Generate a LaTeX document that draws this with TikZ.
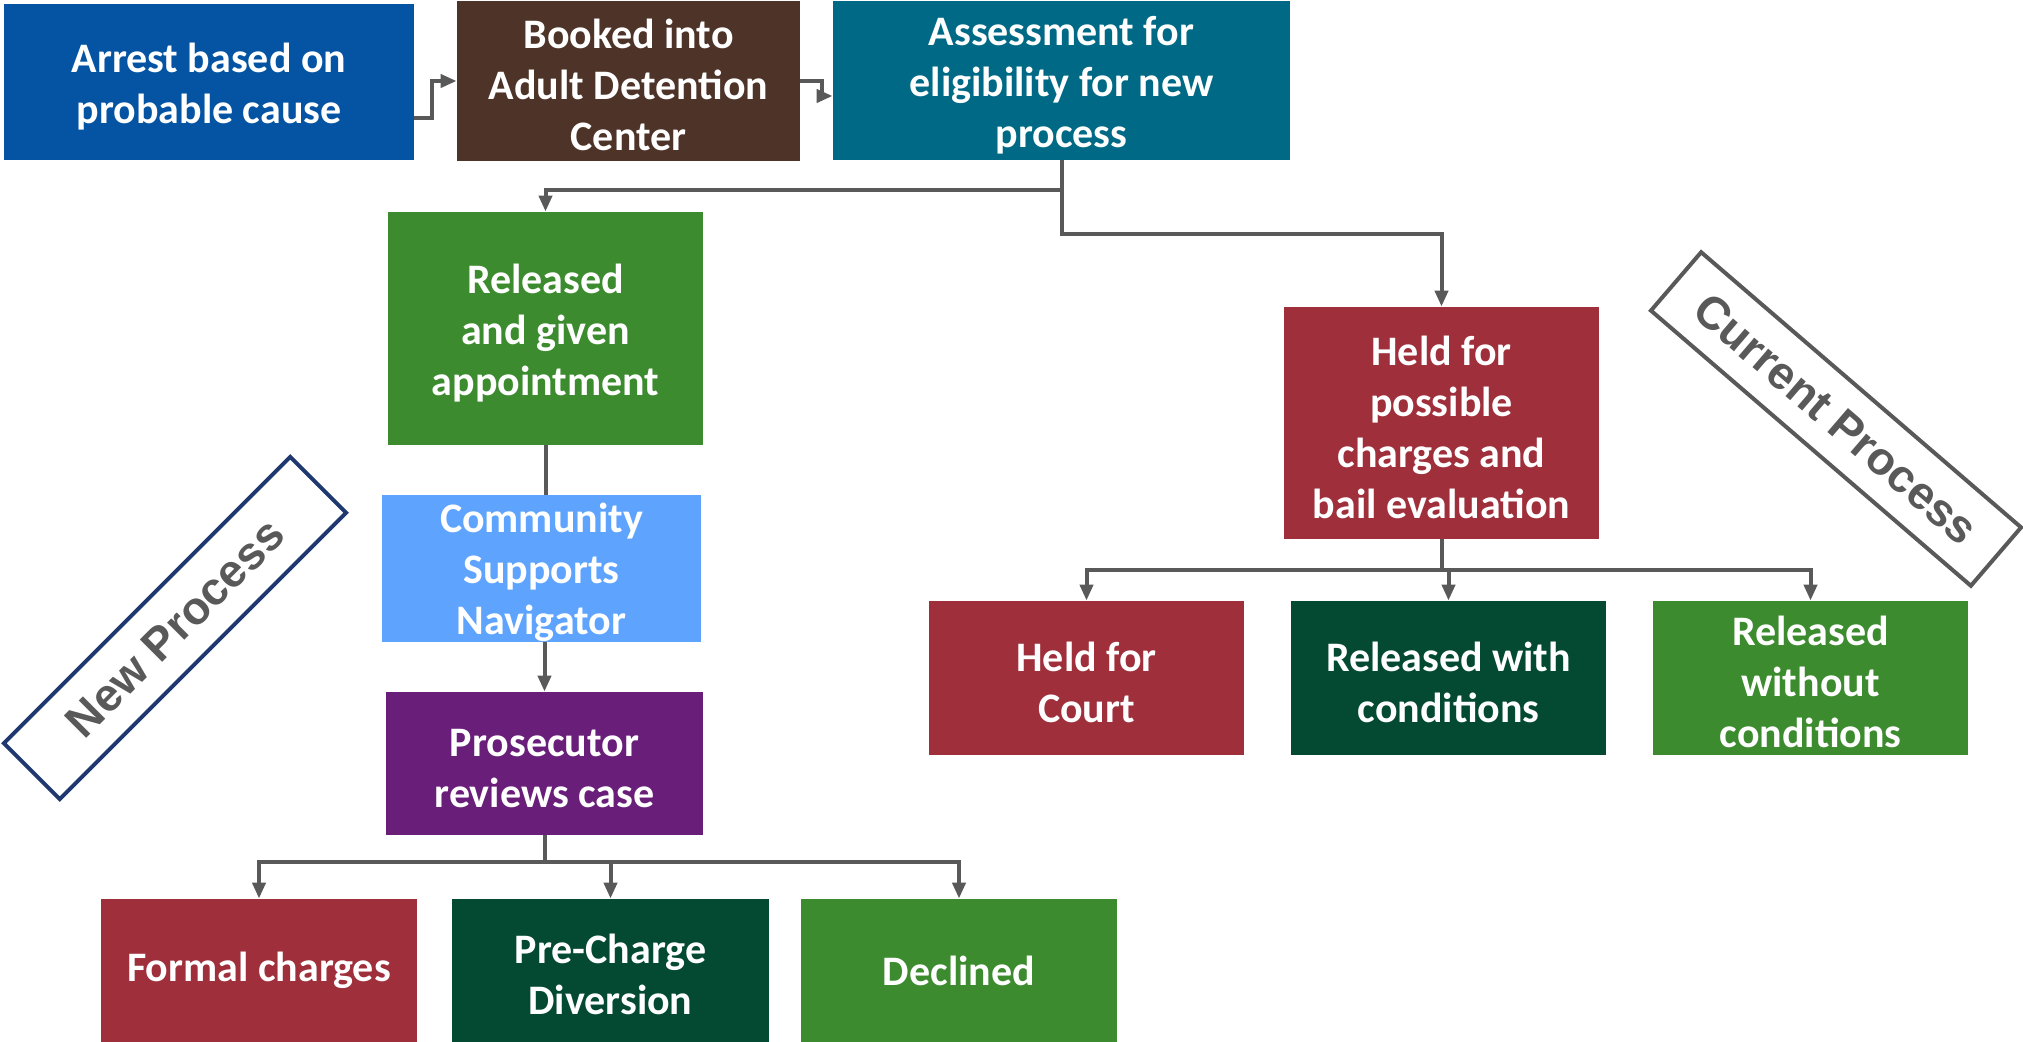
\documentclass[tikz,border=0pt]{standalone}
\usepackage{fontspec}
\setmainfont{Carlito}
\newfontfamily\arialfont{Liberation Sans}
\usetikzlibrary{arrows.meta,calc}
\definecolor{cBlue}{HTML}{0454A3}
\definecolor{cBrown}{HTML}{4D3328}
\definecolor{cTeal}{HTML}{006A86}
\definecolor{cGreen}{HTML}{3D8B2F}
\definecolor{cLight}{HTML}{5EA4FF}
\definecolor{cPurple}{HTML}{691F7A}
\definecolor{cRed}{HTML}{9E2F3B}
\definecolor{cDark}{HTML}{044A33}
\definecolor{cGray}{HTML}{595959}
\definecolor{cNavy}{HTML}{1F3870}
\newcommand\topstrut{\rule{0pt}{19pt}}
\tikzset{
  box/.style={fill=#1, draw=none, text=white, align=center, inner sep=0pt,
    font=\fontsize{21}{25.5}\selectfont\bfseries},
  wide/.style={minimum width=157.5pt},
  line/.style={draw=cGray, line width=2pt},
  conn/.style={line, -{Triangle[length=8pt,width=6.5pt]}},
  tag/.style={inner sep=0pt, line width=2pt, text=cGray,
    font=\arialfont\fontsize{23}{27}\selectfont\bfseries}
}
\begin{document}
\begin{tikzpicture}[x=0.5pt,y=-0.5pt]
\useasboundingbox (0,0) rectangle (2023,1042);
% top row
\node[box=cBlue, minimum width=205pt, minimum height=78pt] (arrest) at (209,82) {\topstrut Arrest based on\\probable cause};
\node[box=cBrown, minimum width=171.5pt, minimum height=80pt] (booked) at (628.5,81) {\topstrut Booked into\\Adult Detention\\Center};
\node[box=cTeal, minimum width=228.5pt, minimum height=79.5pt] (assess) at (1061.5,80.5) {\topstrut Assessment for\\eligibility for new\\process};
% new process column
\node[box=cGreen, minimum width=157.5pt, minimum height=116.5pt] (released) at (545.5,328.5) {\topstrut Released\\and given\\appointment};
\node[box=cLight, minimum width=159.5pt, minimum height=71.5pt] (community) at (541.5,568.5) {\topstrut Community\\Supports\\Navigator};
\node[box=cPurple, minimum width=158.5pt, minimum height=71.5pt] (prosecutor) at (544.5,763.5) {\topstrut Prosecutor\\reviews case};
\node[box=cRed, minimum width=158pt, minimum height=71.5pt] (formal) at (259,970.5) {Formal charges};
\node[box=cDark, minimum width=158.5pt, minimum height=71.5pt] (divert) at (610.5,970.5) {\topstrut Pre-Charge\\Diversion};
\node[box=cGreen, minimum width=158pt, minimum height=71.5pt] (declined) at (959,970.5) {Declined};
% current process column
\node[box=cRed, wide, minimum height=116pt] (held) at (1441.5,423) {\topstrut Held for\\possible\\charges and\\bail evaluation};
\node[box=cRed, wide, minimum height=77pt] (court) at (1086.5,678) {\topstrut Held for\\Court};
\node[box=cDark, wide, minimum height=77pt] (relwith) at (1448.5,678) {\topstrut Released with\\conditions};
\node[box=cGreen, wide, minimum height=77pt] (relwo) at (1810.5,678) {\topstrut Released\\without\\conditions};
% tags
\node[tag, draw=cNavy, rotate=45, minimum width=202.5pt, minimum height=39.5pt] (newtag) at (175,628) {New Process};
\node[tag, draw=cGray, rotate=-40.7, minimum width=211pt, minimum height=38.5pt] (curtag) at (1836,419) {Current Process};
% connectors
\draw[conn] ($(arrest.east)+(0,36)$) -- ++(18,0) |- (booked.west);
\draw[conn] (booked.east) -- ++(22,0) |- ($(assess.west)+(0,15.5)$);
\draw[conn] (assess.south) -- ++(0,30) -| (released.north);
\draw[conn] (assess.south) -- ++(0,74) -| (held.north);
\draw[line] (released.south) -- (released.south |- community.north);
\draw[conn] (community.south -| prosecutor.north) -- (prosecutor.north);
\draw[conn] (prosecutor.south) -- ++(0,27) -| (formal.north);
\draw[conn] (prosecutor.south) -- ++(0,27) -| (divert.north);
\draw[conn] (prosecutor.south) -- ++(0,27) -| (declined.north);
\draw[conn] (held.south) -- ++(0,31) -| (court.north);
\draw[conn] (held.south) -- ++(0,31) -| (relwith.north);
\draw[conn] (held.south) -- ++(0,31) -| (relwo.north);
\end{tikzpicture}
\end{document}
